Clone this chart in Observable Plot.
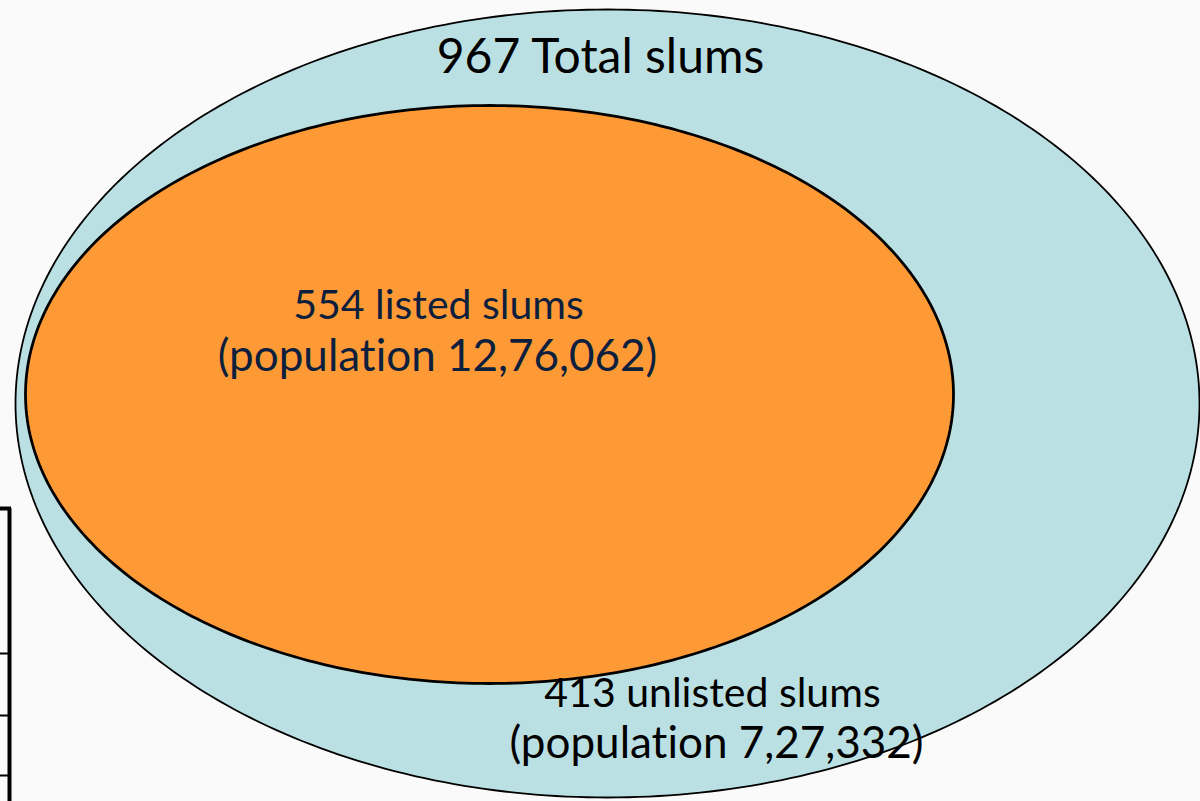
<!DOCTYPE html>
<html>
<head>
<meta charset="utf-8">
<script src="https://cdn.jsdelivr.net/npm/d3@7"></script>
<script src="https://cdn.jsdelivr.net/npm/@observablehq/plot@0.6"></script>
<style>
  html, body { margin: 0; padding: 0; background: #fafafa; }
  #chart svg { display: block; }
  #chart svg text { font-variant-ligatures: none; font-feature-settings: "liga" 0; }
</style>
</head>
<body>
<div id="chart"></div>
<script>
// ---- data ----
const groups = ["Total slums", "listed slums", "unlisted slums"];
const counts = [967, 554, 413];
const populations = [null, "12,76,062", "7,27,332"];

// ---- layout (pixel space of the picture) ----
const W = 1200, H = 801;
const ellipses = [
  {name: groups[0], cx: 607, cy: 403, rx: 592, ry: 394, fill: "#bbe0e3", sw: 1.8},
  {name: groups[1], cx: 489, cy: 394, rx: 464, ry: 289, fill: "#fe9a36", sw: 2.8}
];
const pts = [];
for (const e of ellipses) {
  const n = 360;
  for (let i = 0; i < n; i++) {
    const t = (i / n) * 2 * Math.PI;
    pts.push({name: e.name, x: e.cx + e.rx * Math.cos(t), y: e.cy + e.ry * Math.sin(t)});
  }
}
const labels = [
  {x: 600, y: 57, text: `${counts[0]} ${groups[0]}`, color: "#000000", size: 48},
  {x: 438, y: 305, text: `${counts[1]} ${groups[1]}`, color: "#0d1f3c", size: 41},
  {x: 437, y: 356, text: `(population ${populations[1]})`, color: "#0d1f3c", size: 44},
  {x: 712, y: 693, text: `${counts[2]} ${groups[2]}`, color: "#000000", size: 41},
  {x: 716, y: 743, text: `(population ${populations[2]})`, color: "#000000", size: 44}
];
const tickYs = [653, 715, 775];

const plot = Plot.plot({
  width: W, height: H,
  margin: 0,
  style: {background: "#fafafa", fontFamily: "Lato, sans-serif"},
  x: {domain: [0, W], axis: null},
  y: {domain: [0, H], reverse: true, axis: null},
  marks: [
    Plot.line(pts.filter(d => d.name === groups[0]), {x: "x", y: "y", curve: "linear-closed", fill: ellipses[0].fill, stroke: "#000", strokeWidth: ellipses[0].sw}),
    Plot.line(pts.filter(d => d.name === groups[1]), {x: "x", y: "y", curve: "linear-closed", fill: ellipses[1].fill, stroke: "#000", strokeWidth: ellipses[1].sw}),
    Plot.ruleX([9], {y1: 508, y2: H, stroke: "#000", strokeWidth: 4}),
    Plot.ruleY([508], {x1: 0, x2: 11, stroke: "#000", strokeWidth: 4}),
    Plot.ruleY(tickYs, {x1: 0, x2: 11, stroke: "#000", strokeWidth: 2}),
    ...labels.map(l => Plot.text([l], {x: "x", y: "y", text: "text", fill: l.color, fontSize: l.size, textAnchor: "middle", lineAnchor: "middle"}))
  ]
});
document.getElementById("chart").appendChild(plot);
</script>
</body>
</html>
